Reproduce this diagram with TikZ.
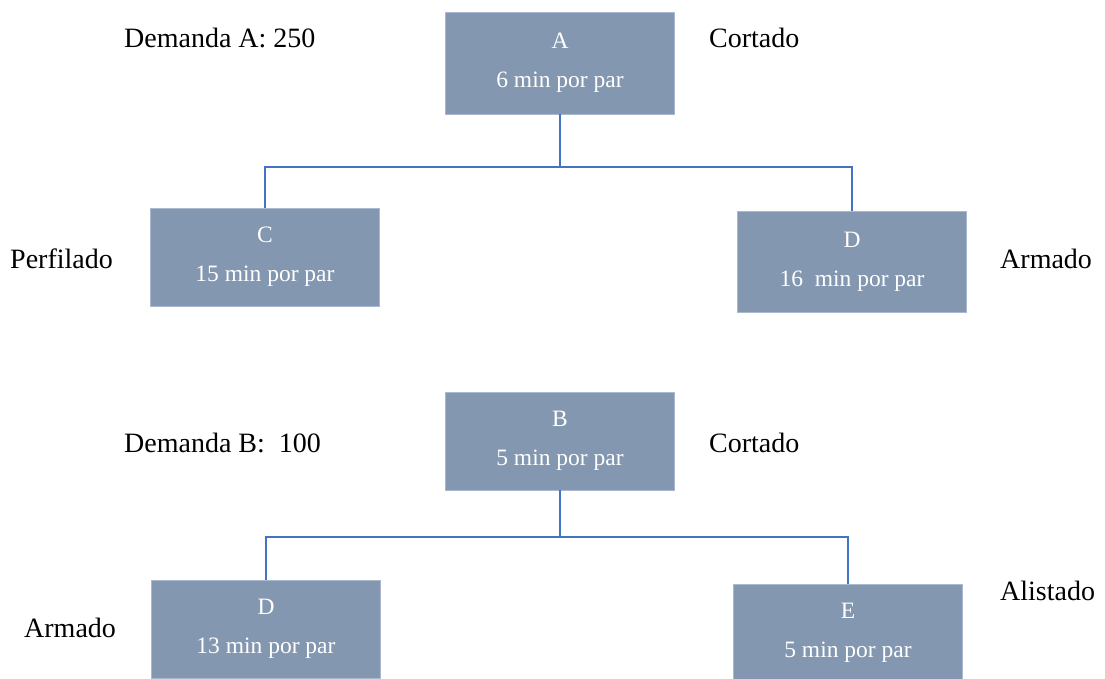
\documentclass[tikz,border=0pt]{standalone}
\usepackage{fontspec}
\setmainfont{Liberation Serif}
\definecolor{boxfill}{RGB}{132,151,176}
\definecolor{boxedge}{RGB}{170,185,205}
\definecolor{linkc}{RGB}{68,114,196}
\begin{document}
\begin{tikzpicture}[x=1pt,y=-1pt,
  procbox/.style={fill=boxfill,draw=boxedge,line width=0.8pt,minimum width=229pt,minimum height=99pt,
    inner sep=0pt,align=center,text=white,font=\fontsize{23.5}{39}\selectfont},
  lbl/.style={font=\fontsize{28}{30}\selectfont,text=black,inner sep=0pt},
  link/.style={draw=linkc,line width=1.1pt}]
\useasboundingbox (0,0) rectangle (1105,679);
% top tree
\node[procbox,minimum height=102pt] (A) at (560,63) {A\\6 min por par};
\node[procbox,minimum height=98pt] (C) at (265,257) {C\\15 min por par};
\node[procbox,minimum height=101pt] (D1) at (852,261.5) {D\\16\ \ min por par};
\coordinate (jA) at (560,167);
\draw[link] (A.south) -- (jA) -| (C.north);
\draw[link] (jA) -| (D1.north);
% bottom tree
\node[procbox,minimum height=98pt] (B) at (560,441) {B\\5 min por par};
\node[procbox,minimum height=98pt] (D2) at (266,629) {D\\13 min por par};
\node[procbox,minimum height=98pt] (E) at (848,633) {E\\5 min por par};
\coordinate (jB) at (560,537);
\draw[link] (B.south) -- (jB) -| (D2.north);
\draw[link] (jB) -| (E.north);
% labels
\node[lbl,anchor=west] (dA) at (124,38) {Demanda A: 250};
\node[lbl,anchor=west] (cA) at (709,38) {Cortado};
\node[lbl,anchor=west] (pf) at (10,259) {Perfilado};
\node[lbl,anchor=west] (ar1) at (1000,259) {Armado};
\node[lbl,anchor=west] (dB) at (124,443) {Demanda B:\ \ 100};
\node[lbl,anchor=west] (cB) at (709,443) {Cortado};
\node[lbl,anchor=west] (ar2) at (24,628) {Armado};
\node[lbl,anchor=west] (al) at (1000,591) {Alistado};
\end{tikzpicture}
\end{document}
